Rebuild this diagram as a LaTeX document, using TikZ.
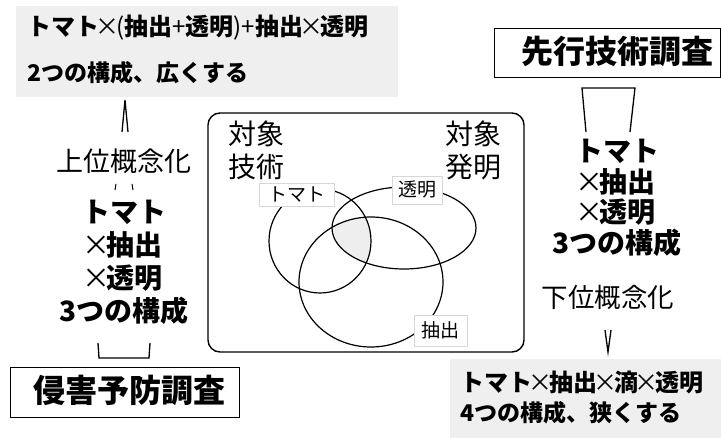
\documentclass[tikz,border=0pt]{standalone}
\usepackage{fontspec}
\setmainfont{Noto Sans CJK JP}
\definecolor{graybg}{RGB}{239,239,239}
\definecolor{venn}{RGB}{238,238,238}
\definecolor{lblborder}{RGB}{215,215,215}
\newcommand{\thinx}{{\mdseries\kern-3.5pt×\kern-3.5pt}}
\newcommand{\thinc}[1]{{\mdseries #1}}
\begin{document}
\begin{tikzpicture}[x=1pt,y=-1pt,
  line/.style={line width=1.3pt,black},
  grayboxst/.style={fill=graybg,draw=none,inner sep=0pt},
  framebox/.style={draw=black,line width=1.3pt,inner sep=0pt},
  midtxt/.style={font=\fontsize{23}{28}\selectfont\bfseries,inner sep=0pt,anchor=west},
  bigtxt/.style={font=\fontsize{32}{36}\selectfont\bfseries,inner sep=0pt},
  regtxt/.style={font=\fontsize{27}{30}\selectfont,inner sep=0pt},
  blocktxt/.style={align=center,inner sep=0pt},
  lbl/.style={draw=lblborder,fill=white,line width=0.6pt,font=\fontsize{19}{22}\selectfont,inner xsep=3pt,inner ysep=2pt},
  vennline/.style={line width=1.2pt,black}]
\useasboundingbox (0,0) rectangle (721,438);

% top-left gray box
\node[grayboxst,minimum width=382pt,minimum height=91pt,anchor=north west] (topbox) at (16,6) {};
\node[midtxt,font=\fontsize{24}{28}\selectfont\bfseries] (topl1) at (27,28) {トマト\thinx\thinc{(}抽出\thinc{+}透明\thinc{)+}抽出\thinx 透明};
\node[midtxt] (topl2) at (27,73) {2つの構成、広くする};

% bottom-right gray box
\node[grayboxst,minimum width=271pt,minimum height=79pt,anchor=north west] (botbox) at (450,359) {};
\node[midtxt,font=\fontsize{24}{28}\selectfont\bfseries] (botl1) at (460,382) {トマト\thinx 抽出\thinx 滴\thinx 透明};
\node[midtxt] (botl2) at (460,413) {4つの構成、狭くする};

% framed title boxes
\node[framebox,minimum width=226pt,minimum height=49pt,anchor=north west] (senbox) at (494,28) {};
\node[bigtxt] (sentxt) at (617,51) {先行技術調査};
\node[framebox,minimum width=229pt,minimum height=50pt,anchor=north west] (shinbox) at (10,367) {};
\node[bigtxt] (shintxt) at (130,390) {侵害予防調査};

% concept labels
\node[regtxt] (joui) at (124,161) {上位概念化};
\node[regtxt,font=\fontsize{26.5}{30}\selectfont] (kai) at (608,297) {下位概念化};

% blocks
\node[blocktxt,font=\fontsize{28}{33}\selectfont\bfseries] (lblock) at (124,262) {トマト\\\thinx 抽出\\\thinx 透明\\3つの構成};
\node[blocktxt,font=\fontsize{28}{30.5}\selectfont\bfseries] (rblock) at (617,198) {トマト\\\thinx 抽出\\\thinx 透明\\3つの構成};

% connectors (arrow shapes)
\coordinate (ca1) at (122,132); \coordinate (ca2) at (125,100); \coordinate (ca3) at (128,132);
\draw[line,line join=miter] (ca1) -- (ca2) -- (ca3);
\coordinate (m1a) at (116,184); \coordinate (m1b) at (115,190);
\coordinate (m2a) at (132,184); \coordinate (m2b) at (133,190);
\draw[line width=1pt] (m1a) -- (m1b) (m2a) -- (m2b);
\coordinate (b1) at (98,343); \coordinate (b2) at (99,358); \coordinate (b3) at (149,358); \coordinate (b4) at (150,343);
\draw[line] (b1) -- (b2) -- (b3) -- (b4);
\coordinate (t1) at (586,132); \coordinate (t2) at (582,88); \coordinate (t3) at (635,88); \coordinate (t4) at (630,132);
\draw[line] (t1) -- (t2) -- (t3) -- (t4);
\coordinate (v1) at (605,330); \coordinate (v2) at (608,352); \coordinate (v3) at (611,330);
\draw[line,line join=miter] (v1) -- (v2) -- (v3);

% central panel
\draw[line width=1.4pt,rounded corners=12pt] (208,113) rectangle (524,352);
\node[regtxt,font=\fontsize{28}{33}\selectfont,align=left,anchor=north west] (taishogi) at (228,121) {対象\\技術};
\node[regtxt,font=\fontsize{28}{33}\selectfont,align=left,anchor=north west] (taishohat) at (445,121) {対象\\発明};

% venn
\begin{scope}
\clip (320,241) ellipse [x radius=51, y radius=52];
\clip (404,228) ellipse [x radius=72, y radius=41];
\fill[venn] (371,282) ellipse [x radius=72, y radius=65];
\end{scope}
\draw[vennline] (320,241) ellipse [x radius=51, y radius=52];
\draw[vennline] (404,228) ellipse [x radius=72, y radius=41];
\draw[vennline] (371,282) ellipse [x radius=72, y radius=65];
\node[lbl,minimum width=75pt,minimum height=23pt] (ltomato) at (296.5,194.5) {トマト};
\node[lbl,minimum width=50pt,minimum height=28pt] (ltoumei) at (417,190) {透明};
\node[lbl,minimum width=53pt,minimum height=31pt] (lchushutsu) at (440.5,330.5) {抽出};
\end{tikzpicture}
\end{document}
